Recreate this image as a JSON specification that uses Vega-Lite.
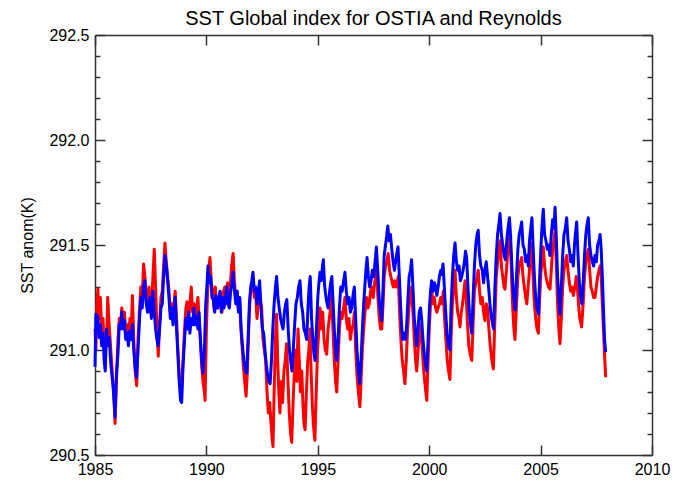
{
  "$schema": "https://vega.github.io/schema/vega-lite/v6.json",
  "width": 557,
  "height": 420,
  "autosize": "none",
  "padding": {"left": 95, "top": 35, "right": 21, "bottom": 32},
  "background": "white",
  "title": {"text": "SST Global index for OSTIA and Reynolds", "fontSize": 20, "font": "Liberation Sans", "fontWeight": "normal", "color": "#000", "anchor": "middle", "offset": -2},
  "config": {
    "view": {"stroke": null},
    "axis": {"labelFont": "Liberation Sans", "titleFont": "Liberation Sans", "labelFontSize": 16, "titleFontSize": 16, "labelColor": "#000", "titleColor": "#000", "titleFontWeight": "normal", "domainColor": "#333", "tickColor": "#333", "domainWidth": 1.5, "tickWidth": 1.5, "grid": false, "labelFlush": false, "labelOverlap": false}
  },
  "datasets": {
    "ostia": [
      {"t":1985.00,"v":290.92},{"t":1985.04,"v":291.17},{"t":1985.09,"v":291.10},{"t":1985.13,"v":291.16},{"t":1985.18,"v":291.06},{"t":1985.24,"v":291.12},{"t":1985.30,"v":291.02},{"t":1985.36,"v":291.08},{"t":1985.41,"v":290.95},{"t":1985.46,"v":290.90},{"t":1985.52,"v":291.10},{"t":1985.58,"v":291.02},{"t":1985.64,"v":291.06},{"t":1985.70,"v":290.95},{"t":1985.76,"v":290.88},{"t":1985.81,"v":290.83},{"t":1985.86,"v":290.75},{"t":1985.90,"v":290.68},{"t":1985.96,"v":290.88},
      {"t":1986.03,"v":290.98},{"t":1986.09,"v":291.12},{"t":1986.15,"v":291.10},{"t":1986.20,"v":291.18},{"t":1986.26,"v":291.10},{"t":1986.32,"v":291.14},{"t":1986.38,"v":291.05},{"t":1986.44,"v":291.08},{"t":1986.50,"v":291.02},{"t":1986.57,"v":291.09},{"t":1986.63,"v":291.05},{"t":1986.68,"v":291.12},{"t":1986.74,"v":291.00},{"t":1986.80,"v":290.92},{"t":1986.87,"v":290.87},{"t":1986.93,"v":291.00},
      {"t":1987.00,"v":291.15},{"t":1987.06,"v":291.25},{"t":1987.12,"v":291.20},{"t":1987.18,"v":291.30},{"t":1987.24,"v":291.33},{"t":1987.30,"v":291.22},{"t":1987.36,"v":291.18},{"t":1987.42,"v":291.22},{"t":1987.47,"v":291.25},{"t":1987.53,"v":291.15},{"t":1987.60,"v":291.28},{"t":1987.66,"v":291.18},{"t":1987.72,"v":291.10},{"t":1987.78,"v":291.05},{"t":1987.83,"v":291.02},{"t":1987.90,"v":291.10},{"t":1987.96,"v":291.20},
      {"t":1988.02,"v":291.22},{"t":1988.08,"v":291.35},{"t":1988.14,"v":291.45},{"t":1988.20,"v":291.40},{"t":1988.26,"v":291.33},{"t":1988.32,"v":291.25},{"t":1988.38,"v":291.15},{"t":1988.44,"v":291.20},{"t":1988.50,"v":291.12},{"t":1988.55,"v":291.18},{"t":1988.60,"v":291.25},{"t":1988.66,"v":291.10},{"t":1988.72,"v":290.98},{"t":1988.78,"v":290.85},{"t":1988.84,"v":290.76},{"t":1988.89,"v":290.75},{"t":1988.95,"v":290.92},
      {"t":1989.02,"v":291.05},{"t":1989.08,"v":291.15},{"t":1989.13,"v":291.10},{"t":1989.20,"v":291.18},{"t":1989.26,"v":291.08},{"t":1989.32,"v":291.15},{"t":1989.38,"v":291.12},{"t":1989.44,"v":291.20},{"t":1989.50,"v":291.12},{"t":1989.56,"v":291.16},{"t":1989.62,"v":291.10},{"t":1989.67,"v":291.18},{"t":1989.73,"v":291.05},{"t":1989.79,"v":290.95},{"t":1989.85,"v":290.89},{"t":1989.91,"v":291.00},{"t":1989.97,"v":291.22},
      {"t":1990.02,"v":291.30},{"t":1990.07,"v":291.40},{"t":1990.13,"v":291.32},{"t":1990.19,"v":291.35},{"t":1990.25,"v":291.25},{"t":1990.31,"v":291.24},{"t":1990.37,"v":291.18},{"t":1990.43,"v":291.26},{"t":1990.49,"v":291.20},{"t":1990.55,"v":291.22},{"t":1990.61,"v":291.28},{"t":1990.67,"v":291.18},{"t":1990.73,"v":291.25},{"t":1990.79,"v":291.20},{"t":1990.85,"v":291.24},{"t":1990.91,"v":291.30},{"t":1990.97,"v":291.22},
      {"t":1991.03,"v":291.20},{"t":1991.09,"v":291.28},{"t":1991.15,"v":291.32},{"t":1991.20,"v":291.37},{"t":1991.26,"v":291.28},{"t":1991.32,"v":291.22},{"t":1991.38,"v":291.28},{"t":1991.44,"v":291.18},{"t":1991.50,"v":291.25},{"t":1991.56,"v":291.10},{"t":1991.62,"v":291.02},{"t":1991.68,"v":290.95},{"t":1991.75,"v":290.90},{"t":1991.81,"v":290.89},{"t":1991.87,"v":291.05},{"t":1991.93,"v":291.22},{"t":1991.99,"v":291.30},
      {"t":1992.04,"v":291.33},{"t":1992.09,"v":291.37},{"t":1992.15,"v":291.28},{"t":1992.21,"v":291.30},{"t":1992.27,"v":291.22},{"t":1992.33,"v":291.28},{"t":1992.39,"v":291.33},{"t":1992.45,"v":291.20},{"t":1992.51,"v":291.10},{"t":1992.57,"v":291.08},{"t":1992.63,"v":291.00},{"t":1992.69,"v":290.93},{"t":1992.75,"v":290.88},{"t":1992.81,"v":290.85},{"t":1992.86,"v":290.84},{"t":1992.92,"v":290.95},{"t":1992.98,"v":291.10},
      {"t":1993.04,"v":291.22},{"t":1993.10,"v":291.30},{"t":1993.15,"v":291.35},{"t":1993.21,"v":291.25},{"t":1993.27,"v":291.20},{"t":1993.33,"v":291.15},{"t":1993.39,"v":291.12},{"t":1993.44,"v":291.10},{"t":1993.50,"v":291.18},{"t":1993.56,"v":291.22},{"t":1993.61,"v":291.24},{"t":1993.67,"v":291.10},{"t":1993.73,"v":291.00},{"t":1993.78,"v":290.95},{"t":1993.84,"v":290.90},{"t":1993.90,"v":291.00},{"t":1993.96,"v":291.12},
      {"t":1994.02,"v":291.22},{"t":1994.08,"v":291.25},{"t":1994.14,"v":291.30},{"t":1994.20,"v":291.33},{"t":1994.26,"v":291.22},{"t":1994.32,"v":291.18},{"t":1994.38,"v":291.10},{"t":1994.44,"v":291.08},{"t":1994.50,"v":291.05},{"t":1994.56,"v":291.20},{"t":1994.61,"v":291.30},{"t":1994.66,"v":291.35},{"t":1994.72,"v":291.15},{"t":1994.78,"v":291.05},{"t":1994.83,"v":290.98},{"t":1994.88,"v":290.95},{"t":1994.94,"v":291.10},
      {"t":1995.00,"v":291.25},{"t":1995.05,"v":291.32},{"t":1995.10,"v":291.37},{"t":1995.16,"v":291.33},{"t":1995.21,"v":291.40},{"t":1995.25,"v":291.43},{"t":1995.31,"v":291.30},{"t":1995.37,"v":291.25},{"t":1995.42,"v":291.22},{"t":1995.47,"v":291.20},{"t":1995.53,"v":291.28},{"t":1995.58,"v":291.32},{"t":1995.63,"v":291.35},{"t":1995.69,"v":291.22},{"t":1995.74,"v":291.10},{"t":1995.80,"v":291.00},{"t":1995.85,"v":290.95},{"t":1995.91,"v":291.05},{"t":1995.97,"v":291.20},
      {"t":1996.03,"v":291.30},{"t":1996.09,"v":291.28},{"t":1996.16,"v":291.33},{"t":1996.22,"v":291.37},{"t":1996.28,"v":291.28},{"t":1996.34,"v":291.22},{"t":1996.40,"v":291.25},{"t":1996.46,"v":291.18},{"t":1996.52,"v":291.20},{"t":1996.58,"v":291.26},{"t":1996.64,"v":291.30},{"t":1996.70,"v":291.15},{"t":1996.76,"v":291.00},{"t":1996.82,"v":290.90},{"t":1996.88,"v":290.84},{"t":1996.94,"v":290.95},
      {"t":1997.00,"v":291.10},{"t":1997.06,"v":291.22},{"t":1997.11,"v":291.30},{"t":1997.16,"v":291.38},{"t":1997.21,"v":291.44},{"t":1997.27,"v":291.35},{"t":1997.33,"v":291.30},{"t":1997.39,"v":291.33},{"t":1997.45,"v":291.38},{"t":1997.51,"v":291.35},{"t":1997.57,"v":291.42},{"t":1997.63,"v":291.49},{"t":1997.69,"v":291.38},{"t":1997.75,"v":291.25},{"t":1997.81,"v":291.18},{"t":1997.87,"v":291.14},{"t":1997.93,"v":291.30},{"t":1997.98,"v":291.45},
      {"t":1998.04,"v":291.50},{"t":1998.09,"v":291.54},{"t":1998.14,"v":291.59},{"t":1998.20,"v":291.52},{"t":1998.26,"v":291.55},{"t":1998.32,"v":291.48},{"t":1998.38,"v":291.42},{"t":1998.44,"v":291.38},{"t":1998.49,"v":291.42},{"t":1998.55,"v":291.46},{"t":1998.60,"v":291.49},{"t":1998.66,"v":291.35},{"t":1998.72,"v":291.20},{"t":1998.77,"v":291.10},{"t":1998.82,"v":291.05},{"t":1998.88,"v":291.08},{"t":1998.94,"v":291.05},{"t":1998.99,"v":291.12},
      {"t":1999.05,"v":291.25},{"t":1999.10,"v":291.35},{"t":1999.16,"v":291.38},{"t":1999.21,"v":291.43},{"t":1999.27,"v":291.30},{"t":1999.33,"v":291.15},{"t":1999.39,"v":291.08},{"t":1999.44,"v":291.02},{"t":1999.50,"v":291.10},{"t":1999.55,"v":291.18},{"t":1999.61,"v":291.20},{"t":1999.66,"v":291.15},{"t":1999.72,"v":291.05},{"t":1999.78,"v":290.98},{"t":1999.84,"v":290.93},{"t":1999.89,"v":290.90},{"t":1999.95,"v":291.05},
      {"t":2000.01,"v":291.20},{"t":2000.06,"v":291.28},{"t":2000.11,"v":291.33},{"t":2000.17,"v":291.28},{"t":2000.23,"v":291.32},{"t":2000.29,"v":291.30},{"t":2000.34,"v":291.26},{"t":2000.40,"v":291.30},{"t":2000.46,"v":291.35},{"t":2000.52,"v":291.38},{"t":2000.57,"v":291.36},{"t":2000.62,"v":291.41},{"t":2000.68,"v":291.30},{"t":2000.74,"v":291.18},{"t":2000.80,"v":291.08},{"t":2000.86,"v":291.02},{"t":2000.93,"v":291.00},{"t":2000.98,"v":291.20},
      {"t":2001.04,"v":291.35},{"t":2001.10,"v":291.45},{"t":2001.16,"v":291.51},{"t":2001.22,"v":291.42},{"t":2001.28,"v":291.38},{"t":2001.34,"v":291.40},{"t":2001.40,"v":291.33},{"t":2001.46,"v":291.35},{"t":2001.52,"v":291.38},{"t":2001.58,"v":291.42},{"t":2001.63,"v":291.47},{"t":2001.68,"v":291.44},{"t":2001.74,"v":291.30},{"t":2001.80,"v":291.18},{"t":2001.86,"v":291.12},{"t":2001.91,"v":291.08},{"t":2001.97,"v":291.25},
      {"t":2002.03,"v":291.40},{"t":2002.09,"v":291.50},{"t":2002.15,"v":291.55},{"t":2002.20,"v":291.57},{"t":2002.26,"v":291.45},{"t":2002.32,"v":291.40},{"t":2002.38,"v":291.38},{"t":2002.44,"v":291.32},{"t":2002.50,"v":291.38},{"t":2002.56,"v":291.42},{"t":2002.62,"v":291.35},{"t":2002.68,"v":291.28},{"t":2002.74,"v":291.20},{"t":2002.80,"v":291.15},{"t":2002.85,"v":291.12},{"t":2002.89,"v":291.10},{"t":2002.95,"v":291.30},
      {"t":2003.01,"v":291.45},{"t":2003.07,"v":291.55},{"t":2003.13,"v":291.60},{"t":2003.18,"v":291.65},{"t":2003.24,"v":291.55},{"t":2003.30,"v":291.50},{"t":2003.36,"v":291.45},{"t":2003.42,"v":291.43},{"t":2003.48,"v":291.52},{"t":2003.54,"v":291.58},{"t":2003.60,"v":291.63},{"t":2003.65,"v":291.55},{"t":2003.71,"v":291.40},{"t":2003.77,"v":291.28},{"t":2003.82,"v":291.22},{"t":2003.86,"v":291.19},{"t":2003.92,"v":291.35},{"t":2003.98,"v":291.48},
      {"t":2004.04,"v":291.55},{"t":2004.10,"v":291.58},{"t":2004.15,"v":291.61},{"t":2004.21,"v":291.50},{"t":2004.27,"v":291.48},{"t":2004.33,"v":291.42},{"t":2004.39,"v":291.45},{"t":2004.45,"v":291.40},{"t":2004.50,"v":291.52},{"t":2004.56,"v":291.58},{"t":2004.61,"v":291.63},{"t":2004.66,"v":291.50},{"t":2004.72,"v":291.35},{"t":2004.78,"v":291.25},{"t":2004.84,"v":291.20},{"t":2004.90,"v":291.17},{"t":2004.96,"v":291.35},
      {"t":2005.02,"v":291.50},{"t":2005.07,"v":291.60},{"t":2005.12,"v":291.67},{"t":2005.18,"v":291.55},{"t":2005.24,"v":291.52},{"t":2005.30,"v":291.48},{"t":2005.36,"v":291.50},{"t":2005.42,"v":291.45},{"t":2005.48,"v":291.55},{"t":2005.54,"v":291.62},{"t":2005.60,"v":291.58},{"t":2005.65,"v":291.68},{"t":2005.71,"v":291.52},{"t":2005.76,"v":291.35},{"t":2005.82,"v":291.25},{"t":2005.87,"v":291.17},{"t":2005.93,"v":291.30},{"t":2005.99,"v":291.45},
      {"t":2006.05,"v":291.55},{"t":2006.11,"v":291.58},{"t":2006.17,"v":291.63},{"t":2006.23,"v":291.52},{"t":2006.29,"v":291.48},{"t":2006.35,"v":291.42},{"t":2006.41,"v":291.45},{"t":2006.47,"v":291.40},{"t":2006.52,"v":291.50},{"t":2006.57,"v":291.56},{"t":2006.62,"v":291.61},{"t":2006.68,"v":291.45},{"t":2006.74,"v":291.32},{"t":2006.80,"v":291.25},{"t":2006.85,"v":291.22},{"t":2006.91,"v":291.32},{"t":2006.97,"v":291.45},
      {"t":2007.03,"v":291.55},{"t":2007.09,"v":291.60},{"t":2007.14,"v":291.63},{"t":2007.20,"v":291.50},{"t":2007.26,"v":291.45},{"t":2007.32,"v":291.42},{"t":2007.38,"v":291.40},{"t":2007.44,"v":291.45},{"t":2007.50,"v":291.42},{"t":2007.56,"v":291.50},{"t":2007.62,"v":291.52},{"t":2007.67,"v":291.55},{"t":2007.72,"v":291.48},{"t":2007.77,"v":291.35},{"t":2007.82,"v":291.20},{"t":2007.87,"v":291.05},{"t":2007.92,"v":290.99}
    ],
    "reynolds": [
      {"t":1985.00,"v":291.10},{"t":1985.04,"v":291.00},{"t":1985.09,"v":291.22},{"t":1985.13,"v":291.29},{"t":1985.18,"v":291.15},{"t":1985.24,"v":291.25},{"t":1985.30,"v":291.10},{"t":1985.36,"v":291.15},{"t":1985.41,"v":291.00},{"t":1985.46,"v":291.05},{"t":1985.52,"v":291.02},{"t":1985.57,"v":291.25},{"t":1985.62,"v":291.15},{"t":1985.68,"v":291.05},{"t":1985.74,"v":290.95},{"t":1985.80,"v":290.85},{"t":1985.85,"v":290.78},{"t":1985.90,"v":290.65},{"t":1985.96,"v":290.85},
      {"t":1986.03,"v":291.05},{"t":1986.09,"v":291.15},{"t":1986.15,"v":291.12},{"t":1986.20,"v":291.20},{"t":1986.26,"v":291.15},{"t":1986.32,"v":291.18},{"t":1986.38,"v":291.08},{"t":1986.44,"v":291.12},{"t":1986.50,"v":291.05},{"t":1986.57,"v":291.15},{"t":1986.63,"v":291.10},{"t":1986.68,"v":291.26},{"t":1986.74,"v":291.05},{"t":1986.80,"v":290.90},{"t":1986.87,"v":290.83},{"t":1986.93,"v":291.05},
      {"t":1987.00,"v":291.20},{"t":1987.06,"v":291.30},{"t":1987.12,"v":291.25},{"t":1987.18,"v":291.41},{"t":1987.24,"v":291.35},{"t":1987.30,"v":291.25},{"t":1987.36,"v":291.20},{"t":1987.42,"v":291.30},{"t":1987.47,"v":291.18},{"t":1987.53,"v":291.20},{"t":1987.60,"v":291.35},{"t":1987.66,"v":291.48},{"t":1987.72,"v":291.30},{"t":1987.78,"v":291.10},{"t":1987.84,"v":290.97},{"t":1987.90,"v":291.12},{"t":1987.96,"v":291.25},
      {"t":1988.02,"v":291.28},{"t":1988.08,"v":291.40},{"t":1988.14,"v":291.51},{"t":1988.20,"v":291.42},{"t":1988.26,"v":291.35},{"t":1988.32,"v":291.28},{"t":1988.38,"v":291.18},{"t":1988.44,"v":291.22},{"t":1988.50,"v":291.15},{"t":1988.55,"v":291.22},{"t":1988.60,"v":291.28},{"t":1988.66,"v":291.15},{"t":1988.72,"v":291.00},{"t":1988.78,"v":290.88},{"t":1988.84,"v":290.80},{"t":1988.89,"v":290.82},{"t":1988.95,"v":290.95},
      {"t":1989.02,"v":291.10},{"t":1989.08,"v":291.20},{"t":1989.13,"v":291.23},{"t":1989.20,"v":291.15},{"t":1989.26,"v":291.22},{"t":1989.32,"v":291.30},{"t":1989.38,"v":291.18},{"t":1989.44,"v":291.22},{"t":1989.50,"v":291.15},{"t":1989.56,"v":291.20},{"t":1989.62,"v":291.25},{"t":1989.67,"v":291.15},{"t":1989.73,"v":291.05},{"t":1989.79,"v":290.92},{"t":1989.85,"v":290.85},{"t":1989.91,"v":290.80},{"t":1989.94,"v":290.76},
      {"t":1990.00,"v":291.10},{"t":1990.06,"v":291.30},{"t":1990.12,"v":291.40},{"t":1990.16,"v":291.44},{"t":1990.22,"v":291.32},{"t":1990.28,"v":291.28},{"t":1990.34,"v":291.20},{"t":1990.40,"v":291.30},{"t":1990.46,"v":291.22},{"t":1990.52,"v":291.20},{"t":1990.58,"v":291.25},{"t":1990.64,"v":291.27},{"t":1990.70,"v":291.18},{"t":1990.76,"v":291.28},{"t":1990.83,"v":291.30},{"t":1990.89,"v":291.22},{"t":1990.95,"v":291.32},
      {"t":1991.01,"v":291.25},{"t":1991.07,"v":291.30},{"t":1991.13,"v":291.40},{"t":1991.20,"v":291.46},{"t":1991.26,"v":291.32},{"t":1991.32,"v":291.25},{"t":1991.38,"v":291.28},{"t":1991.42,"v":291.20},{"t":1991.48,"v":291.25},{"t":1991.54,"v":291.12},{"t":1991.60,"v":291.02},{"t":1991.66,"v":290.92},{"t":1991.72,"v":290.85},{"t":1991.78,"v":290.78},{"t":1991.84,"v":290.90},{"t":1991.90,"v":291.10},{"t":1991.96,"v":291.25},
      {"t":1992.02,"v":291.30},{"t":1992.09,"v":291.35},{"t":1992.15,"v":291.25},{"t":1992.21,"v":291.28},{"t":1992.27,"v":291.15},{"t":1992.33,"v":291.22},{"t":1992.40,"v":291.25},{"t":1992.48,"v":291.20},{"t":1992.54,"v":291.05},{"t":1992.60,"v":291.00},{"t":1992.66,"v":290.95},{"t":1992.72,"v":290.80},{"t":1992.78,"v":290.70},{"t":1992.84,"v":290.75},{"t":1992.90,"v":290.65},{"t":1992.95,"v":290.58},{"t":1992.99,"v":290.54},
      {"t":1993.04,"v":290.80},{"t":1993.10,"v":291.05},{"t":1993.15,"v":291.17},{"t":1993.20,"v":290.95},{"t":1993.25,"v":290.80},{"t":1993.30,"v":290.70},{"t":1993.36,"v":290.85},{"t":1993.42,"v":290.75},{"t":1993.48,"v":290.90},{"t":1993.54,"v":290.95},{"t":1993.60,"v":291.03},{"t":1993.66,"v":290.85},{"t":1993.72,"v":290.70},{"t":1993.78,"v":290.60},{"t":1993.83,"v":290.56},{"t":1993.89,"v":290.75},{"t":1993.95,"v":290.90},
      {"t":1994.01,"v":291.00},{"t":1994.06,"v":290.85},{"t":1994.11,"v":291.10},{"t":1994.17,"v":290.95},{"t":1994.22,"v":290.80},{"t":1994.28,"v":290.90},{"t":1994.33,"v":290.75},{"t":1994.38,"v":290.65},{"t":1994.43,"v":290.62},{"t":1994.49,"v":290.80},{"t":1994.55,"v":290.95},{"t":1994.60,"v":291.00},{"t":1994.65,"v":291.10},{"t":1994.70,"v":290.90},{"t":1994.75,"v":290.75},{"t":1994.80,"v":290.65},{"t":1994.84,"v":290.60},{"t":1994.87,"v":290.57},{"t":1994.93,"v":290.80},{"t":1994.99,"v":291.00},
      {"t":1995.05,"v":291.10},{"t":1995.10,"v":291.20},{"t":1995.16,"v":291.10},{"t":1995.22,"v":291.18},{"t":1995.28,"v":291.05},{"t":1995.34,"v":291.00},{"t":1995.40,"v":290.98},{"t":1995.46,"v":291.10},{"t":1995.52,"v":291.15},{"t":1995.57,"v":291.20},{"t":1995.62,"v":291.26},{"t":1995.68,"v":291.10},{"t":1995.74,"v":290.95},{"t":1995.80,"v":290.85},{"t":1995.85,"v":290.80},{"t":1995.91,"v":290.95},{"t":1995.97,"v":291.10},
      {"t":1996.03,"v":291.18},{"t":1996.09,"v":291.15},{"t":1996.16,"v":291.20},{"t":1996.22,"v":291.25},{"t":1996.28,"v":291.15},{"t":1996.34,"v":291.10},{"t":1996.40,"v":291.15},{"t":1996.46,"v":291.05},{"t":1996.52,"v":291.10},{"t":1996.59,"v":291.12},{"t":1996.64,"v":291.18},{"t":1996.70,"v":291.00},{"t":1996.76,"v":290.88},{"t":1996.82,"v":290.80},{"t":1996.89,"v":290.73},{"t":1996.94,"v":290.85},
      {"t":1997.00,"v":291.00},{"t":1997.06,"v":291.10},{"t":1997.12,"v":291.18},{"t":1997.19,"v":291.25},{"t":1997.25,"v":291.20},{"t":1997.31,"v":291.22},{"t":1997.37,"v":291.28},{"t":1997.43,"v":291.30},{"t":1997.49,"v":291.25},{"t":1997.55,"v":291.32},{"t":1997.60,"v":291.35},{"t":1997.64,"v":291.38},{"t":1997.70,"v":291.25},{"t":1997.76,"v":291.15},{"t":1997.82,"v":291.10},{"t":1997.87,"v":291.10},{"t":1997.93,"v":291.22},{"t":1997.98,"v":291.35},
      {"t":1998.04,"v":291.40},{"t":1998.10,"v":291.42},{"t":1998.16,"v":291.46},{"t":1998.22,"v":291.38},{"t":1998.28,"v":291.35},{"t":1998.34,"v":291.32},{"t":1998.39,"v":291.30},{"t":1998.45,"v":291.33},{"t":1998.51,"v":291.30},{"t":1998.56,"v":291.32},{"t":1998.61,"v":291.35},{"t":1998.67,"v":291.18},{"t":1998.73,"v":291.05},{"t":1998.79,"v":290.95},{"t":1998.85,"v":290.90},{"t":1998.91,"v":290.84},{"t":1998.97,"v":290.95},
      {"t":1999.03,"v":291.10},{"t":1999.09,"v":291.20},{"t":1999.15,"v":291.25},{"t":1999.21,"v":291.30},{"t":1999.27,"v":291.18},{"t":1999.33,"v":291.05},{"t":1999.39,"v":290.95},{"t":1999.44,"v":290.90},{"t":1999.50,"v":291.00},{"t":1999.56,"v":291.08},{"t":1999.62,"v":291.12},{"t":1999.68,"v":291.02},{"t":1999.74,"v":290.92},{"t":1999.80,"v":290.85},{"t":1999.85,"v":290.80},{"t":1999.89,"v":290.76},{"t":1999.95,"v":290.95},
      {"t":2000.01,"v":291.12},{"t":2000.06,"v":291.22},{"t":2000.11,"v":291.30},{"t":2000.17,"v":291.22},{"t":2000.23,"v":291.25},{"t":2000.29,"v":291.20},{"t":2000.34,"v":291.18},{"t":2000.40,"v":291.20},{"t":2000.46,"v":291.22},{"t":2000.52,"v":291.25},{"t":2000.58,"v":291.22},{"t":2000.63,"v":291.28},{"t":2000.69,"v":291.15},{"t":2000.75,"v":291.05},{"t":2000.81,"v":290.95},{"t":2000.87,"v":290.90},{"t":2000.93,"v":290.86},{"t":2000.98,"v":291.05},
      {"t":2001.04,"v":291.22},{"t":2001.10,"v":291.30},{"t":2001.16,"v":291.38},{"t":2001.22,"v":291.25},{"t":2001.28,"v":291.18},{"t":2001.34,"v":291.15},{"t":2001.38,"v":291.11},{"t":2001.44,"v":291.18},{"t":2001.50,"v":291.22},{"t":2001.56,"v":291.28},{"t":2001.61,"v":291.33},{"t":2001.66,"v":291.25},{"t":2001.72,"v":291.12},{"t":2001.78,"v":291.02},{"t":2001.84,"v":290.98},{"t":2001.91,"v":290.95},{"t":2001.97,"v":291.12},
      {"t":2002.03,"v":291.28},{"t":2002.09,"v":291.32},{"t":2002.15,"v":291.35},{"t":2002.20,"v":291.38},{"t":2002.26,"v":291.28},{"t":2002.32,"v":291.22},{"t":2002.38,"v":291.25},{"t":2002.44,"v":291.18},{"t":2002.50,"v":291.14},{"t":2002.56,"v":291.22},{"t":2002.62,"v":291.20},{"t":2002.68,"v":291.10},{"t":2002.74,"v":291.02},{"t":2002.80,"v":290.96},{"t":2002.88,"v":290.91},{"t":2002.95,"v":291.15},
      {"t":2003.01,"v":291.35},{"t":2003.07,"v":291.42},{"t":2003.13,"v":291.48},{"t":2003.18,"v":291.52},{"t":2003.24,"v":291.40},{"t":2003.30,"v":291.35},{"t":2003.36,"v":291.30},{"t":2003.40,"v":291.29},{"t":2003.48,"v":291.40},{"t":2003.54,"v":291.48},{"t":2003.60,"v":291.52},{"t":2003.63,"v":291.55},{"t":2003.68,"v":291.40},{"t":2003.74,"v":291.22},{"t":2003.80,"v":291.10},{"t":2003.85,"v":291.05},{"t":2003.92,"v":291.22},{"t":2003.98,"v":291.35},
      {"t":2004.04,"v":291.40},{"t":2004.10,"v":291.42},{"t":2004.15,"v":291.44},{"t":2004.21,"v":291.35},{"t":2004.27,"v":291.30},{"t":2004.33,"v":291.25},{"t":2004.38,"v":291.22},{"t":2004.44,"v":291.30},{"t":2004.50,"v":291.38},{"t":2004.56,"v":291.45},{"t":2004.60,"v":291.51},{"t":2004.66,"v":291.35},{"t":2004.72,"v":291.22},{"t":2004.78,"v":291.15},{"t":2004.84,"v":291.10},{"t":2004.90,"v":291.08},{"t":2004.96,"v":291.25},
      {"t":2005.02,"v":291.38},{"t":2005.07,"v":291.42},{"t":2005.12,"v":291.49},{"t":2005.18,"v":291.40},{"t":2005.24,"v":291.35},{"t":2005.30,"v":291.32},{"t":2005.36,"v":291.30},{"t":2005.42,"v":291.29},{"t":2005.48,"v":291.38},{"t":2005.54,"v":291.48},{"t":2005.60,"v":291.52},{"t":2005.65,"v":291.57},{"t":2005.71,"v":291.40},{"t":2005.76,"v":291.22},{"t":2005.82,"v":291.10},{"t":2005.87,"v":291.03},{"t":2005.93,"v":291.15},{"t":2005.99,"v":291.30},
      {"t":2006.05,"v":291.38},{"t":2006.11,"v":291.42},{"t":2006.17,"v":291.45},{"t":2006.23,"v":291.38},{"t":2006.29,"v":291.32},{"t":2006.35,"v":291.28},{"t":2006.41,"v":291.30},{"t":2006.47,"v":291.26},{"t":2006.54,"v":291.30},{"t":2006.60,"v":291.35},{"t":2006.65,"v":291.30},{"t":2006.70,"v":291.22},{"t":2006.76,"v":291.15},{"t":2006.84,"v":291.11},{"t":2006.91,"v":291.22},{"t":2006.97,"v":291.35},
      {"t":2007.03,"v":291.42},{"t":2007.09,"v":291.45},{"t":2007.14,"v":291.48},{"t":2007.20,"v":291.38},{"t":2007.26,"v":291.30},{"t":2007.32,"v":291.28},{"t":2007.38,"v":291.25},{"t":2007.44,"v":291.25},{"t":2007.50,"v":291.30},{"t":2007.56,"v":291.35},{"t":2007.62,"v":291.38},{"t":2007.67,"v":291.40},{"t":2007.72,"v":291.35},{"t":2007.77,"v":291.22},{"t":2007.82,"v":291.10},{"t":2007.87,"v":290.98},{"t":2007.92,"v":290.87}
    ]
  },
  "layer": [
    {
      "data": {"name": "reynolds"},
      "mark": {"type": "line", "color": "#ff0000", "strokeWidth": 3, "strokeJoin": "round"},
      "encoding": {
        "x": {"field": "t", "type": "quantitative", "scale": {"domain": [1985, 2010], "nice": false, "zero": false},
              "axis": {"orient": "bottom", "values": [1985, 1990, 1995, 2000, 2005, 2010], "format": "d", "tickSize": -10, "labelPadding": 16, "title": null}},
        "y": {"field": "v", "type": "quantitative", "scale": {"domain": [290.5, 292.5], "nice": false, "zero": false},
              "axis": {"orient": "left", "values": [290.5, 291, 291.5, 292, 292.5], "format": ".1f", "tickSize": -10, "labelPadding": 16, "title": "SST anom(K)", "titleX": -68, "titleY": 210, "titleAngle": -90, "titleAlign": "center", "titleBaseline": "middle"}}
      }
    },
    {
      "data": {"name": "ostia"},
      "mark": {"type": "line", "color": "#0000ff", "strokeWidth": 3, "strokeJoin": "round"},
      "encoding": {
        "x": {"field": "t", "type": "quantitative",
              "axis": {"orient": "top", "values": [1985, 1990, 1995, 2000, 2005, 2010], "tickSize": -10, "labels": false, "title": null}},
        "y": {"field": "v", "type": "quantitative",
              "axis": {"orient": "right", "values": [290.5, 291, 291.5, 292, 292.5], "tickSize": -10, "labels": false, "title": null}}
      }
    },
    {
      "data": {"name": "ostia"},
      "mark": {"type": "line", "strokeOpacity": 0},
      "encoding": {
        "x": {"field": "t", "type": "quantitative", "axis": null},
        "y": {"field": "v", "type": "quantitative",
              "axis": {"orient": "left", "values": [290.6, 290.7, 290.8, 290.9, 291.1, 291.2, 291.3, 291.4, 291.6, 291.7, 291.8, 291.9, 292.1, 292.2, 292.3, 292.4], "tickSize": -5, "labels": false, "domain": false, "title": null}}
      }
    },
    {
      "data": {"name": "ostia"},
      "mark": {"type": "line", "strokeOpacity": 0},
      "encoding": {
        "x": {"field": "t", "type": "quantitative", "axis": null},
        "y": {"field": "v", "type": "quantitative",
              "axis": {"orient": "right", "values": [290.6, 290.7, 290.8, 290.9, 291.1, 291.2, 291.3, 291.4, 291.6, 291.7, 291.8, 291.9, 292.1, 292.2, 292.3, 292.4], "tickSize": -5, "labels": false, "domain": false, "title": null}}
      }
    }
  ],
  "resolve": {"axis": {"x": "independent", "y": "independent"}}
}
